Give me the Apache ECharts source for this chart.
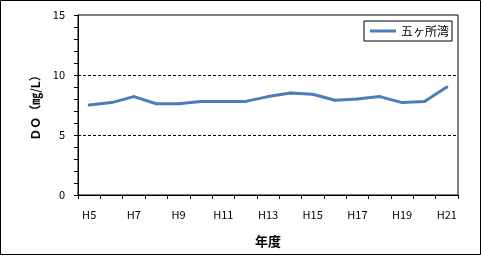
<!DOCTYPE html>
<html>
<head>
<meta charset="utf-8">
<script src="https://cdn.jsdelivr.net/npm/echarts@6/dist/echarts.min.js"></script>
<style>
html,body{margin:0;padding:0;background:#fff;}
#c{width:481px;height:256px;}
</style>
</head>
<body>
<div id="c"></div>
<script>
var categories = ['H5','H6','H7','H8','H9','H10','H11','H12','H13','H14','H15','H16','H17','H18','H19','H20','H21'];
var doValues = [7.5, 7.7, 8.2, 7.6, 7.6, 7.8, 7.8, 7.8, 8.2, 8.5, 8.4, 7.9, 8.0, 8.2, 7.7, 7.8, 9.0];
var seriesName = '五ヶ所湾';
var yTicks = [0, 5, 10, 15];

var FONT = '"Noto Sans CJK JP", "DejaVu Sans", sans-serif';
var chart = echarts.init(document.getElementById('c'), null, {renderer: 'canvas'});
chart.setOption({
  animation: false,
  backgroundColor: '#fff',
  textStyle: {fontFamily: FONT},
  graphic: [{
    type: 'rect',
    shape: {x: 0.5, y: 0.5, width: 480, height: 254},
    style: {fill: 'none', stroke: '#000', lineWidth: 1},
    silent: true
  }],
  grid: {
    left: 78, top: 15, right: 23, bottom: 61,
    show: true, borderColor: '#000', borderWidth: 1, backgroundColor: 'transparent'
  },
  legend: {
    right: 29, top: 21,
    orient: 'horizontal',
    borderColor: '#000', borderWidth: 1,
    backgroundColor: '#fff',
    padding: [4, 3, 4, 6],
    itemWidth: 26, itemHeight: 3, itemGap: 4,
    textStyle: {fontSize: 12, color: '#000', fontFamily: FONT},
    data: [{name: seriesName, icon: 'rect'}]
  },
  xAxis: {
    type: 'category',
    data: categories,
    boundaryGap: true,
    name: '年度',
    nameLocation: 'middle',
    nameGap: 40,
    nameTextStyle: {fontSize: 13, fontWeight: 'bold', color: '#000', fontFamily: FONT},
    axisLine: {lineStyle: {color: '#000', width: 1}},
    axisTick: {show: true, interval: 0, length: 4, inside: false, lineStyle: {color: '#000'}},
    axisLabel: {interval: 1, color: '#000', fontSize: 11, margin: 14, fontFamily: FONT},
    splitLine: {show: false}
  },
  yAxis: {
    type: 'value',
    min: yTicks[0], max: yTicks[yTicks.length - 1], interval: 5,
    name: 'ＤＯ（㎎/L）',
    nameLocation: 'middle',
    nameGap: 37,
    nameRotate: 90,
    nameTextStyle: {fontSize: 12, fontWeight: 'bold', color: '#000', fontFamily: FONT},
    axisLine: {show: true, lineStyle: {color: '#000', width: 1}},
    axisTick: {show: true, length: 4, inside: false, lineStyle: {color: '#000'}},
    minorTick: {show: true, splitNumber: 5, length: 4, lineStyle: {color: '#000'}},
    axisLabel: {color: '#000', fontSize: 11, margin: 13, fontFamily: FONT},
    splitLine: {show: true, showMinLine: false, showMaxLine: false, lineStyle: {color: '#000', type: [3, 2], width: 1}}
  },
  series: [{
    name: seriesName,
    type: 'line',
    data: doValues,
    symbol: 'circle',
    symbolSize: 3,
    showSymbol: true,
    lineStyle: {color: '#4A7EBB', width: 3},
    itemStyle: {color: '#4A7EBB'}
  }]
});
</script>
</body>
</html>
